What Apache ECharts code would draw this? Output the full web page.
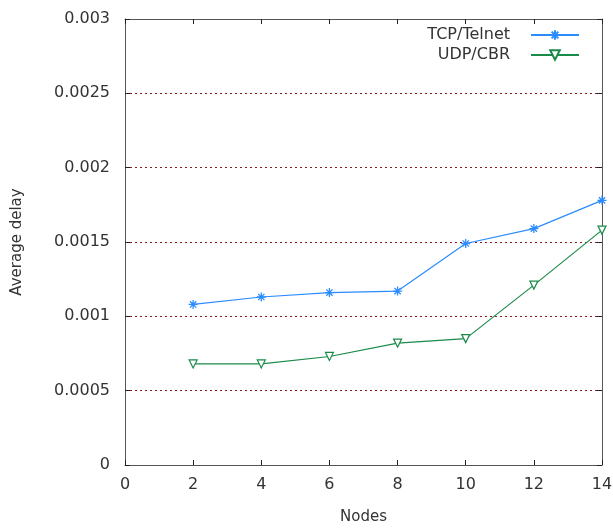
<!DOCTYPE html>
<html>
<head>
<meta charset="utf-8">
<script src="https://cdn.jsdelivr.net/npm/echarts@6/dist/echarts.min.js"></script>
<style>
html,body{margin:0;padding:0;background:#fff;}
#main{width:613px;height:528px;}
</style>
</head>
<body>
<div id="main"></div>
<script>
var nodes = [2, 4, 6, 8, 10, 12, 14];
var tcpTelnet = [0.00108, 0.00113, 0.00116, 0.00117, 0.00149, 0.00159, 0.00178];
var udpCbr = [0.00068, 0.00068, 0.00073, 0.00082, 0.00085, 0.00121, 0.00158];

var starPath = 'path://M-5,0L5,0M0,-5L0,5M-3.5,-3.5L3.5,3.5M-3.5,3.5L3.5,-3.5';
var fontName = 'DejaVu Sans';

function pairs(xs, ys) {
    return xs.map(function (x, i) { return [x, ys[i]]; });
}

var chart = echarts.init(document.getElementById('main'));
chart.setOption({
    backgroundColor: '#fff',
    animation: false,
    textStyle: { fontFamily: fontName },
    grid: { left: 125, right: 11, top: 19, bottom: 63, outerBoundsMode: 'none', containLabel: false },
    legend: {
        orient: 'vertical',
        right: 28,
        top: 22,
        align: 'right',
        itemWidth: 48,
        itemHeight: 12,
        itemGap: 4,
        textStyle: { fontFamily: fontName, fontSize: 16, color: '#333', padding: [0, 16, 0, 0] },
        data: ['TCP/Telnet', 'UDP/CBR']
    },
    xAxis: [{
        type: 'value', min: 0, max: 14, interval: 2,
        name: 'Nodes', nameLocation: 'middle', nameGap: 45,
        nameTextStyle: { fontFamily: fontName, fontSize: 15, color: '#333' },
        axisLine: { onZero: false, lineStyle: { color: '#555', width: 1 } },
        axisTick: { inside: true, length: 5, lineStyle: { color: '#222' } },
        axisLabel: { fontSize: 16, color: '#333', margin: 12 },
        splitLine: { show: false }
    }, {
        type: 'value', min: 0, max: 14, interval: 2, position: 'top',
        axisLine: { show: true, onZero: false, lineStyle: { color: '#555', width: 1 } },
        axisTick: { inside: true, length: 5, lineStyle: { color: '#222' } },
        axisLabel: { show: false },
        splitLine: { show: false }
    }],
    yAxis: [{
        type: 'value', min: 0, max: 0.003, interval: 0.0005,
        name: 'Average delay', nameLocation: 'middle', nameGap: 100, nameRotate: 90,
        nameTextStyle: { fontFamily: fontName, fontSize: 15, color: '#333' },
        axisLine: { show: true, onZero: false, lineStyle: { color: '#555', width: 1 } },
        axisTick: { show: true, inside: true, length: 5, lineStyle: { color: '#222' } },
        axisLabel: { fontSize: 16, color: '#333', margin: 15 },
        splitLine: {
            show: true, showMinLine: false, showMaxLine: false,
            lineStyle: { color: '#8b1a1a', type: [2, 3], width: 1 }
        }
    }, {
        type: 'value', min: 0, max: 0.003, interval: 0.0005, position: 'right',
        axisLine: { show: true, onZero: false, lineStyle: { color: '#555', width: 1 } },
        axisTick: { show: true, inside: true, length: 5, lineStyle: { color: '#222' } },
        axisLabel: { show: false },
        splitLine: { show: false }
    }],
    series: [{
        name: 'TCP/Telnet',
        type: 'line',
        data: pairs(nodes, tcpTelnet),
        symbol: starPath,
        symbolSize: 9,
        showAllSymbol: true,
        lineStyle: { color: '#2b8cff', width: 1.2 },
        itemStyle: { color: '#2b8cff', borderColor: '#2b8cff', borderWidth: 1.3 }
    }, {
        name: 'UDP/CBR',
        type: 'line',
        data: pairs(nodes, udpCbr),
        symbol: 'triangle',
        symbolRotate: 180,
        symbolSize: 8,
        showAllSymbol: true,
        lineStyle: { color: '#1a8a4a', width: 1.2 },
        itemStyle: { color: '#fff', borderColor: '#1a8a4a', borderWidth: 1.2 }
    }]
});
</script>
</body>
</html>
